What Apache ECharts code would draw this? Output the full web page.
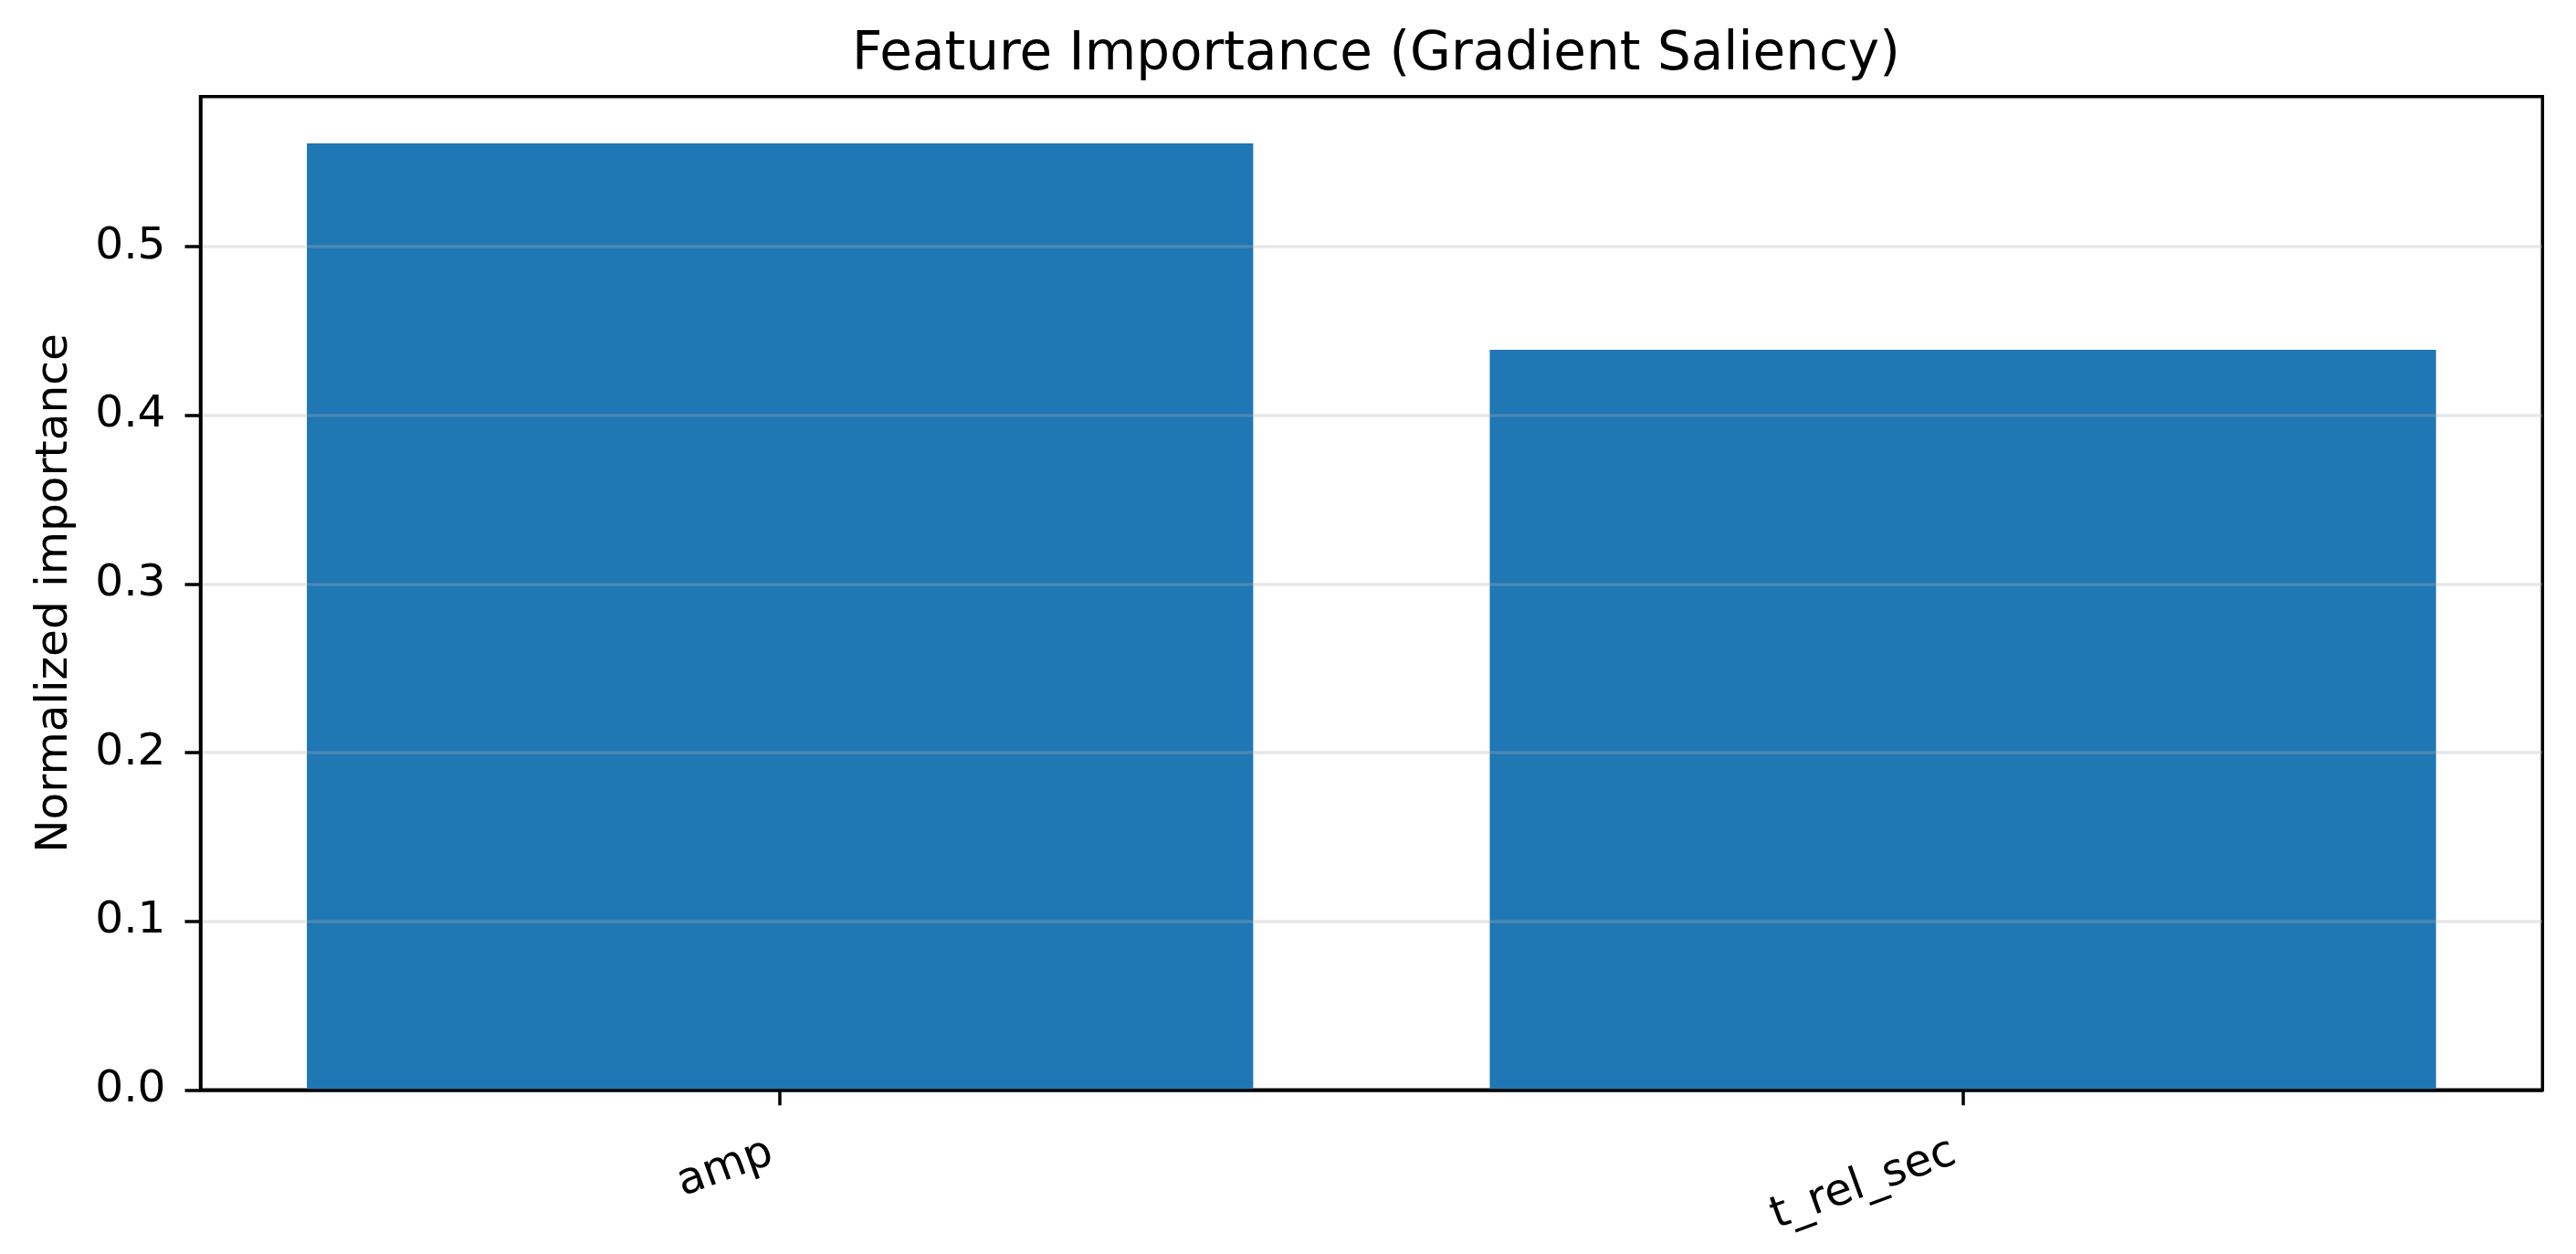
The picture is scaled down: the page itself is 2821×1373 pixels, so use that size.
<!DOCTYPE html>
<html>
<head>
<meta charset="utf-8">
<script src="https://cdn.jsdelivr.net/npm/echarts@6/dist/echarts.min.js"></script>
<style>
html,body{margin:0;padding:0;background:#fff;}
#chart{width:2821px;height:1373px;}
</style>
</head>
<body>
<div id="chart"></div>
<script>
const titleText = 'Feature Importance (Gradient Saliency)';
const yAxisName = 'Normalized importance';
const categories = ['amp', 't_rel_sec'];
const importance = [0.5612, 0.4388];
const yTicks = [0.0, 0.1, 0.2, 0.3, 0.4, 0.5];
const xTicks = [0, 1];

const W = 2821, H = 1373;
const grid = {left: 219.5, right: 36.7, top: 105.7, bottom: 179.7};
const xMin = -0.49, xMax = 1.49;
const gridW = W - grid.left - grid.right;
const barW = 0.8 * gridW / (xMax - xMin);
const font = 'DejaVu Sans';

const chart = echarts.init(document.getElementById('chart'), null, {renderer: 'canvas'});
chart.setOption({
  animation: false,
  backgroundColor: '#ffffff',
  title: {
    text: titleText,
    left: grid.left + gridW / 2,
    textAlign: 'center',
    top: 27,
    textStyle: {fontFamily: font, fontSize: 58, fontWeight: 'normal', color: '#000'}
  },
  grid: {
    left: grid.left, right: grid.right, top: grid.top, bottom: grid.bottom,
    show: true, borderColor: '#000', borderWidth: 3.5, backgroundColor: 'transparent'
  },
  xAxis: {
    type: 'value', min: xMin, max: xMax, z: 3,
    axisLine: {show: true, onZero: false, lineStyle: {color: '#000', width: 3.5}},
    axisTick: {show: true, customValues: xTicks, length: 17, inside: false, lineStyle: {color: '#000', width: 3.5}},
    axisLabel: {
      customValues: xTicks, rotate: 20, margin: 64,
      padding: [0, 10, 0, 0],
      fontFamily: font, fontSize: 48.6, color: '#000',
      formatter: v => categories[Math.round(v)] ?? ''
    },
    splitLine: {show: false}
  },
  yAxis: {
    type: 'value', min: 0, max: 0.589, z: 3,
    name: yAxisName, nameLocation: 'middle', nameRotate: 90, nameGap: 135,
    nameTextStyle: {fontFamily: font, fontSize: 48.6, color: '#000'},
    axisLine: {show: true, onZero: false, lineStyle: {color: '#000', width: 3.5}},
    axisTick: {show: true, customValues: yTicks, length: 17, inside: false, lineStyle: {color: '#000', width: 3.5}},
    axisLabel: {
      customValues: yTicks, margin: 38,
      fontFamily: font, fontSize: 48.6, color: '#000',
      formatter: v => v.toFixed(1)
    },
    splitLine: {show: true, lineStyle: {color: 'rgba(176,176,176,0.3)', width: 3.5}}
  },
  series: [{
    type: 'bar',
    data: importance.map((v, i) => [i, v]),
    barWidth: barW,
    itemStyle: {color: '#1f77b4'}
  }]
});
</script>
</body>
</html>
